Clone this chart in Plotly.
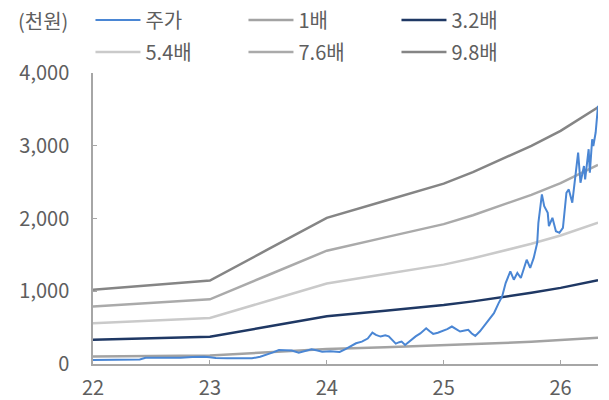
import plotly.graph_objects as go

# ---- data ----
band_t = [22.0, 23.0, 23.5, 24.0, 24.5, 25.0, 25.25, 25.5, 25.75, 26.0, 26.32]
bps = [104, 117, 161, 205, 229, 253, 269, 287, 306, 327, 360]
multiples = [1.0, 3.2, 5.4, 7.6, 9.8]
band_names = ["1배", "3.2배", "5.4배", "7.6배", "9.8배"]
band_colors = ["#A3A3A3", "#1F3864", "#CACACA", "#AAAAAA", "#858585"]

price_t = [22.00, 22.10, 22.20, 22.30, 22.40, 22.45, 22.55, 22.65, 22.75, 22.85, 22.95,
           23.00, 23.05, 23.15, 23.25, 23.36, 23.43, 23.48, 23.54, 23.59, 23.65, 23.70,
           23.76, 23.82, 23.87, 23.92, 23.96, 24.03, 24.11, 24.16, 24.21, 24.25, 24.30,
           24.35, 24.39, 24.42, 24.46, 24.50, 24.53, 24.56, 24.59, 24.62, 24.64, 24.67,
           24.72, 24.76, 24.80, 24.85, 24.88, 24.91, 24.95, 24.98, 25.03, 25.07, 25.11,
           25.14, 25.18, 25.21, 25.24, 25.27, 25.31, 25.36, 25.40, 25.43, 25.47, 25.50,
           25.53, 25.57, 25.60, 25.63, 25.66, 25.69, 25.71, 25.74, 25.77, 25.80, 25.81,
           25.84, 25.86, 25.89, 25.90, 25.93, 25.96, 25.99, 26.02, 26.05, 26.07, 26.10,
           26.13, 26.15, 26.17, 26.20, 26.21, 26.24, 26.25, 26.27, 26.28, 26.30, 26.32]
price = [55, 58, 55, 60, 62, 85, 82, 80, 85, 95, 100,
         92, 82, 78, 76, 78, 100, 124, 160, 193, 185, 184,
         156, 180, 203, 185, 170, 175, 165, 203, 250, 285, 308,
         350, 432, 400, 377, 395, 380, 330, 280, 300, 308, 262,
         331, 380, 420, 492, 450, 414, 430, 446, 480, 515, 470,
         446, 460, 469, 420, 386, 450, 561, 640, 699, 837, 928,
         1113, 1273, 1159, 1251, 1182, 1320, 1434, 1320, 1458, 1665, 1941,
         2331, 2170, 2078, 1894, 2009, 1825, 1803, 1872, 2354, 2400, 2217,
         2583, 2905, 2492, 2721, 2538, 2952, 2630, 3090, 2997, 3182, 3549]

x_ticks = [22, 23, 24, 25, 26]
x_ticktext = ["22", "23", "24", "25", "26"]
y_ticks = [0, 1000, 2000, 3000, 4000]

FONT = "Noto Sans CJK KR"
TXT = "#5E5E5E"

fig = go.Figure()

for i, (m, nm, col) in enumerate(zip(multiples, band_names, band_colors)):
    fig.add_trace(go.Scatter(x=band_t, y=[b * m for b in bps], mode="lines", name=nm,
                             line=dict(color=col, width=2.5), legendrank=i + 2,
                             legend="legend" if i < 2 else "legend2"))
# price drawn on top, but first in legend
fig.add_trace(go.Scatter(x=price_t, y=price, mode="lines", name="주가",
                         line=dict(color="#4A86D4", width=2), legendrank=1,
                         legend="legend"))

leg_common = dict(orientation="h", xref="paper", yref="paper", xanchor="left",
                  yanchor="middle", bgcolor="rgba(0,0,0,0)",
                  font=dict(family=FONT, size=20, color=TXT),
                  itemwidth=45, entrywidth=93, entrywidthmode="pixels",
                  traceorder="normal", itemclick=False, itemdoubleclick=False)

fig.update_layout(
    width=609, height=400,
    margin=dict(l=93, r=11, t=73, b=36, autoexpand=False),
    paper_bgcolor="white", plot_bgcolor="white",
    showlegend=True,
    legend=dict(x=-0.005, y=1.182, **leg_common),
    legend2=dict(x=-0.005, y=1.072, **leg_common),
    xaxis=dict(range=[22, 26.32], tickvals=x_ticks, ticktext=x_ticktext,
               showgrid=False, zeroline=False, showline=True,
               linecolor="#A6A6A6", linewidth=1.5, ticks="inside", ticklen=4,
               tickcolor="#A6A6A6", tickwidth=1.2, ticklabelstandoff=5,
               tickfont=dict(family=FONT, size=20, color=TXT)),
    yaxis=dict(range=[0, 4000], tickvals=y_ticks, tickformat=",",
               showgrid=False, zeroline=False, showline=True,
               linecolor="#A6A6A6", linewidth=1.5, ticks="inside", ticklen=4,
               tickcolor="#A6A6A6", tickwidth=1.2, ticklabelstandoff=18,
               tickfont=dict(family=FONT, size=20, color=TXT)),
    annotations=[dict(text="(천원)", xref="paper", yref="paper", x=-0.152, y=1.182,
                      xanchor="left", yanchor="middle", showarrow=False,
                      font=dict(family=FONT, size=20, color=TXT))],
)

fig.write_html("out.html")
